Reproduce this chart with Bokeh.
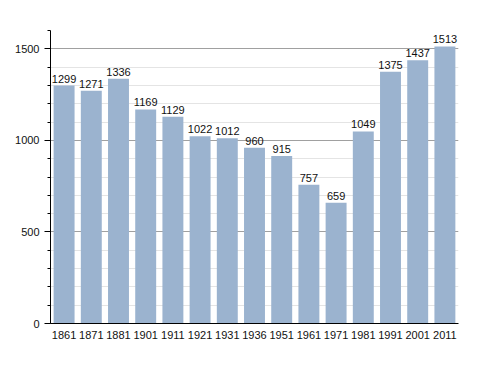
from bokeh.plotting import figure
from bokeh.models import ColumnDataSource, SingleIntervalTicker, Range1d
from bokeh.core.properties import value
from bokeh.embed import file_html
from bokeh.resources import INLINE

years = ["1861", "1871", "1881", "1901", "1911", "1921", "1931", "1936",
         "1951", "1961", "1971", "1981", "1991", "2001", "2011"]
population = [1299, 1271, 1336, 1169, 1129, 1022, 1012, 960,
              915, 757, 659, 1049, 1375, 1437, 1513]
labels = [str(v) for v in population]

src = ColumnDataSource(dict(x=years, top=population, label=labels))

p = figure(x_range=years, y_range=Range1d(0, 1600), width=472, height=357,
           output_backend="svg", toolbar_location=None,
           min_border_left=50, min_border_right=14, min_border_top=30, min_border_bottom=34)
p.outline_line_color = None
p.x_range.range_padding = 0.0

p.vbar(x="x", top="top", width=0.77, source=src, color="#9bb3cf", line_color=None)
p.text(x="x", y="top", text="label", source=src, text_align="center",
       text_baseline="bottom", y_offset=-3, text_font_size="11px",
       text_font=value("Liberation Sans"), text_color="#111111")

p.xgrid.grid_line_color = None
p.yaxis.ticker = SingleIntervalTicker(interval=500, num_minor_ticks=5)
p.ygrid.grid_line_color = "#a0a0a0"
p.ygrid.minor_grid_line_color = "#e4e4e4"
p.ygrid.level = "underlay"

p.yaxis.axis_line_color = "black"
p.yaxis.major_tick_in = 0
p.yaxis.major_tick_out = 6
p.yaxis.minor_tick_in = 0
p.yaxis.minor_tick_out = 3
p.yaxis.major_label_text_font = "Liberation Sans"
p.yaxis.major_label_text_font_size = "11px"
p.yaxis.major_label_text_color = "#111111"

p.xaxis.axis_line_color = "black"
p.xaxis.major_tick_line_color = None
p.xaxis.minor_tick_line_color = None
p.xaxis.major_label_text_font = "Liberation Sans"
p.xaxis.major_label_text_font_size = "11px"
p.xaxis.major_label_text_color = "#111111"
p.xaxis.major_label_standoff = 1

open("out.html", "w").write(file_html(p, INLINE))
